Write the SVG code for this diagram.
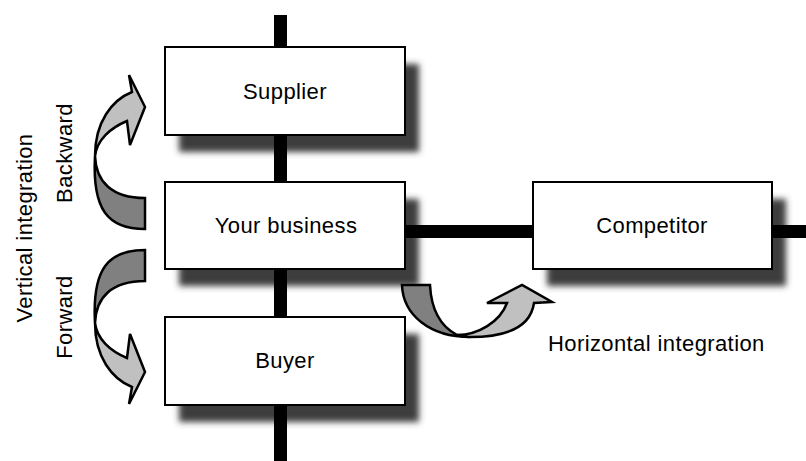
<svg xmlns="http://www.w3.org/2000/svg" width="806" height="461" viewBox="0 0 806 461">
<style>
.box{fill:#ffffff;stroke:#000000;stroke-width:2}
.shadow{fill:#3c3c3c;filter:url(#blur)}
.link{stroke:#000000;stroke-width:13;fill:none}
.lbl{font-family:"Liberation Sans",Arial,sans-serif;font-size:22px;letter-spacing:0.4px;fill:#000000}
.mid{text-anchor:middle}
.dark{fill:#808080;stroke:#000000;stroke-width:2.5;stroke-linejoin:miter}
.light{fill:#c0c0c0;stroke:#000000;stroke-width:2.5;stroke-linejoin:miter}
</style>
<defs>
<filter id="blur" x="-20%" y="-30%" width="140%" height="160%"><feGaussianBlur stdDeviation="3"/></filter>
<g id="curl">
<path class="dark" d="M95,156 C96,182 112,198 145,198 L145,229 C108,229 92,210 95,156 Z"/>
<path class="light" d="M95,156 C95,122 112,100 132,92 L129,75 L145,107 L130,145 L127,121 C110,128 97,140 95,156 Z"/>
</g>
</defs>
<rect width="806" height="461" fill="#ffffff"/>
<g id="shadows">
<rect class="shadow" x="179" y="64" width="240" height="88"/>
<rect class="shadow" x="179" y="199" width="240" height="87"/>
<rect class="shadow" x="179" y="334" width="240" height="88"/>
<rect class="shadow" x="547" y="199" width="239" height="87"/>
</g>
<g id="connectors">
<line class="link" x1="280.5" y1="15" x2="280.5" y2="461"/>
<line class="link" x1="405" y1="231.5" x2="806" y2="231.5"/>
</g>
<g id="arrow-backward">
<use href="#curl"/>
</g>
<g id="arrow-forward">
<use href="#curl" transform="matrix(1,0,0,-1,0,479)"/>
</g>
<g id="arrow-horizontal">
<path class="dark" d="M402,285 L430,285 C431,305 438,325 457,335 L470,337 C430,337 403,315 402,285 Z"/>
<path class="light" d="M457,335 C478,335 500,322 507,303 L487,303 L522,285 L552,302 L534,303 C531,324 512,337 470,337 C464,337 460,336 457,335 Z"/>
</g>
<g id="supplier">
<rect class="box" x="165" y="47" width="240" height="88"/>
<text class="lbl mid" x="285" y="99">Supplier</text>
</g>
<g id="your-business">
<rect class="box" x="165" y="182" width="240" height="87"/>
<text class="lbl mid" x="286" y="233">Your business</text>
</g>
<g id="buyer">
<rect class="box" x="165" y="317" width="240" height="88"/>
<text class="lbl mid" x="285" y="368">Buyer</text>
</g>
<g id="competitor">
<rect class="box" x="533" y="182" width="239" height="87"/>
<text class="lbl mid" x="652" y="233">Competitor</text>
</g>
<g id="labels">
<text class="lbl" x="548" y="351">Horizontal integration</text>
<text class="lbl mid" transform="translate(32,228) rotate(-90)">Vertical integration</text>
<text class="lbl mid" transform="translate(72,153) rotate(-90)">Backward</text>
<text class="lbl mid" transform="translate(72,317) rotate(-90)">Forward</text>
</g>
</svg>
